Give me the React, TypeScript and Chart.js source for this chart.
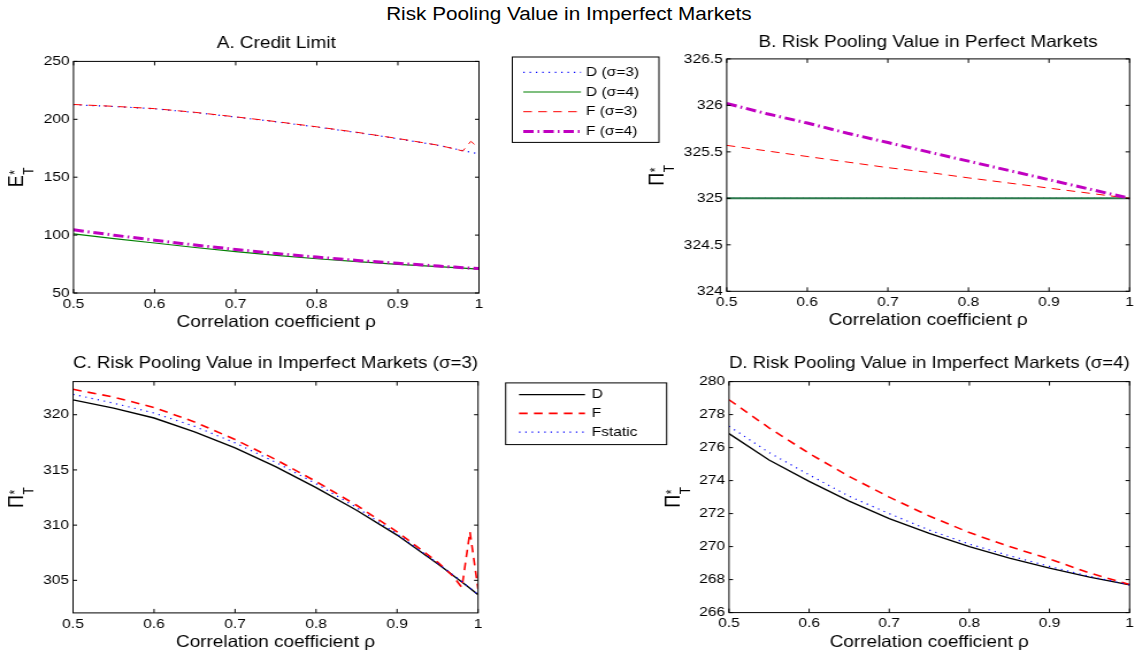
import React, { useEffect, useRef } from "react";
import { Chart, registerables } from "chart.js";

Chart.register(...registerables);

// ---------------- data ----------------
const rhoFine = [0.5, 0.55, 0.6, 0.65, 0.7, 0.75, 0.8, 0.85, 0.9, 0.95, 0.96, 0.97, 0.98, 0.99, 1.0];
const rhoCoarse = [0.5, 0.55, 0.6, 0.65, 0.7, 0.75, 0.8, 0.85, 0.9, 0.95, 1.0];

const xTickValues = [0.5, 0.6, 0.7, 0.8, 0.9, 1.0];
const xTickLabels = ["0.5", "0.6", "0.7", "0.8", "0.9", "1"];

// A. Credit Limit
const creditD3 = [212.6, 211.0, 209.1, 205.8, 201.9, 197.8, 193.3, 188.5, 183.2, 177.4, 176.0, 174.5, 173.0, 171.6, 170.2];
const creditD4 = [101.0, 97.0, 93.2, 89.3, 85.7, 82.5, 79.6, 77.1, 74.8, 72.7, 72.3, 71.9, 71.5, 71.1, 70.7];
const creditF3 = [212.8, 211.2, 209.2, 206.0, 202.1, 198.0, 193.5, 188.7, 183.4, 177.6, 176.0, 174.5, 172.6, 181.0, 175.0];
const creditF4 = [104.6, 99.9, 95.6, 91.4, 87.6, 84.1, 81.0, 78.1, 75.6, 73.3, 72.8, 72.4, 71.9, 71.5, 71.1];
const yTicksA = [50, 100, 150, 200, 250];
const yTickLabelsA = ["50", "100", "150", "200", "250"];

// B. Perfect markets
const perfectD3 = [325, 325, 325, 325, 325, 325, 325, 325, 325, 325, 325];
const perfectD4 = [325, 325, 325, 325, 325, 325, 325, 325, 325, 325, 325];
const perfectF3 = [325.57, 325.51, 325.45, 325.39, 325.33, 325.28, 325.22, 325.165, 325.11, 325.055, 325.0];
const perfectF4 = [326.02, 325.91, 325.81, 325.7, 325.6, 325.5, 325.4, 325.3, 325.2, 325.1, 325.0];
const yTicksB = [324, 324.5, 325, 325.5, 326, 326.5];
const yTickLabelsB = ["324", "324.5", "325", "325.5", "326", "326.5"];

// C. Imperfect markets sigma=3
const imperfect3D = [321.35, 320.6, 319.7, 318.45, 317.0, 315.3, 313.4, 311.35, 309.1, 306.5, 305.95, 305.4, 304.85, 304.28, 303.7];
const imperfect3F = [322.3, 321.6, 320.65, 319.35, 317.75, 315.95, 313.95, 311.8, 309.4, 306.65, 306.0, 305.3, 304.35, 309.4, 304.2];
const imperfect3Fstatic = [321.85, 321.05, 320.15, 318.95, 317.45, 315.7, 313.75, 311.6, 309.2, 306.55, 306.0, 305.45, 304.9, 304.3, 303.7];
const yTicksC = [305, 310, 315, 320];
const yTickLabelsC = ["305", "310", "315", "320"];

// D. Imperfect markets sigma=4
const imperfect4D = [276.85, 275.25, 273.95, 272.75, 271.7, 270.8, 270.0, 269.3, 268.7, 268.15, 267.68];
const imperfect4F = [278.9, 277.2, 275.65, 274.25, 273.0, 271.85, 270.85, 270.0, 269.25, 268.4, 267.7];
const imperfect4Fstatic = [277.3, 275.7, 274.35, 273.05, 272.0, 271.0, 270.15, 269.45, 268.8, 268.2, 267.68];
const yTicksD = [266, 268, 270, 272, 274, 276, 278, 280];
const yTickLabelsD = ["266", "268", "270", "272", "274", "276", "278", "280"];

// ---------------- styling / layout ----------------
const FONT = '"Liberation Sans", Arial, Helvetica, sans-serif';
const K = 1.15; // horizontal stretch of the figure
const VW = 1138 / K - 0.2;
const TITLE_SIZE = 16.5;
const AXIS_SIZE = 16.5;
const TICK_SIZE = 13.5;
const YLABEL_SIZE = 18;
const YLABEL_SMALL = 12;
const TITLE_LH = TITLE_SIZE * 1.2;
const AXIS_LH = AXIS_SIZE * 1.2;

const BLUE = "#0000ff";
const GREEN = "#008000";
const RED = "#ff0000";
const MAGENTA = "#c000c0";
const BLACK = "#000000";

const DOT = [1.2, 4.3];
const DASH = [7.5, 5.5];
const DASHDOT = [9, 3.5, 1.5, 3.5];

type Series = { label: string; xs: number[]; ys: number[]; color: string; width: number; dash: number[] };

type PanelSpec = {
  id: string;
  title: string;
  L: number; R: number; T: number; B: number;
  titleY: number; xTitleY: number;
  cx: number; cRight: number;
  yLabelMain: string; yLabelOffset: number;
  ymin: number; ymax: number;
  yTicks: number[]; yTickLabels: string[];
  series: Series[];
  legend?: { left: number; right: number; top: number; bottom: number; rows: number[]; lx1: number; lx2: number; tx: number };
};

const panels: PanelSpec[] = [
  {
    id: "A",
    title: "A. Credit Limit",
    L: 63.9, R: 416.5, T: 61.7, B: 293.3,
    titleY: 44.2, xTitleY: 322.5,
    cx: 0, cRight: 580,
    yLabelMain: "E", yLabelOffset: 43.9,
    ymin: 50, ymax: 250,
    yTicks: yTicksA, yTickLabels: yTickLabelsA,
    series: [
      { label: "D (σ=3)", xs: rhoFine, ys: creditD3, color: BLUE, width: 1.2, dash: DOT },
      { label: "D (σ=4)", xs: rhoFine, ys: creditD4, color: GREEN, width: 1.2, dash: [] },
      { label: "F (σ=3)", xs: rhoFine, ys: creditF3, color: RED, width: 1, dash: DASH },
      { label: "F (σ=4)", xs: rhoFine, ys: creditF4, color: MAGENTA, width: 3, dash: DASHDOT },
    ],
    legend: { left: 445.5, right: 573, top: 57.3, bottom: 142.7, rows: [72.6, 92.3, 112.0, 131.7], lx1: 455, lx2: 505.2, tx: 509.6 },
  },
  {
    id: "B",
    title: "B. Risk Pooling Value in Perfect Markets",
    L: 631.9, R: 984.1, T: 59.3, B: 291.7,
    titleY: 43.3, xTitleY: 320,
    cx: 560, cRight: 989,
    yLabelMain: "Π", yLabelOffset: 55,
    ymin: 324, ymax: 326.5,
    yTicks: yTicksB, yTickLabels: yTickLabelsB,
    series: [
      { label: "D (σ=3)", xs: rhoCoarse, ys: perfectD3, color: BLUE, width: 1.2, dash: DOT },
      { label: "D (σ=4)", xs: rhoCoarse, ys: perfectD4, color: "#2b7a4b", width: 2, dash: [] },
      { label: "F (σ=3)", xs: rhoCoarse, ys: perfectF3, color: RED, width: 1, dash: DASH },
      { label: "F (σ=4)", xs: rhoCoarse, ys: perfectF4, color: MAGENTA, width: 3, dash: DASHDOT },
    ],
  },
  {
    id: "C",
    title: "C. Risk Pooling Value in Imperfect Markets (σ=3)",
    L: 63.5, R: 415.7, T: 381.7, B: 613,
    titleY: 364, xTitleY: 642,
    cx: 0, cRight: 586,
    yLabelMain: "Π", yLabelOffset: 43.2,
    ymin: 302.05, ymax: 323,
    yTicks: yTicksC, yTickLabels: yTickLabelsC,
    series: [
      { label: "D", xs: rhoFine, ys: imperfect3D, color: BLACK, width: 1.4, dash: [] },
      { label: "F", xs: rhoFine, ys: imperfect3F, color: RED, width: 1.6, dash: DASH },
      { label: "Fstatic", xs: rhoFine, ys: imperfect3Fstatic, color: BLUE, width: 1.2, dash: DOT },
    ],
    legend: { left: 439.7, right: 579.7, top: 383, bottom: 444.7, rows: [394.7, 413.5, 432.3], lx1: 451.3, lx2: 508.7, tx: 514.5 },
  },
  {
    id: "D",
    title: "D. Risk Pooling Value in Imperfect Markets (σ=4)",
    L: 633.9, R: 985.2, T: 381.7, B: 612.7,
    titleY: 364, xTitleY: 642,
    cx: 560, cRight: 989,
    yLabelMain: "Π", yLabelOffset: 43.2,
    ymin: 266, ymax: 280,
    yTicks: yTicksD, yTickLabels: yTickLabelsD,
    series: [
      { label: "D", xs: rhoCoarse, ys: imperfect4D, color: BLACK, width: 1.4, dash: [] },
      { label: "F", xs: rhoCoarse, ys: imperfect4F, color: RED, width: 1.6, dash: DASH },
      { label: "Fstatic", xs: rhoCoarse, ys: imperfect4Fstatic, color: BLUE, width: 1.2, dash: DOT },
    ],
  },
];

function geometry(p: PanelSpec) {
  const cy = p.titleY - TITLE_LH / 2;
  const ch = Math.round(p.xTitleY + AXIS_LH / 2 - cy);
  const cw = Math.round(p.cRight - p.cx);
  return {
    cy, ch, cw,
    yw: p.L - p.cx,
    padR: p.cx + cw - p.R,
    titlePadBottom: p.T - p.titleY - TITLE_LH / 2,
    xh: cy + ch - p.B,
  };
}

const framePlugin = {
  id: "matlabFrame",
  afterDatasetsDraw(chart: any) {
    const { ctx, chartArea: a, scales } = chart;
    ctx.save();
    ctx.strokeStyle = "#000";
    ctx.lineWidth = 1;
    ctx.setLineDash([]);
    ctx.strokeRect(a.left, a.top, a.right - a.left, a.bottom - a.top);
    ctx.beginPath();
    scales.x.ticks.forEach((t: any) => {
      const px = scales.x.getPixelForValue(t.value);
      ctx.moveTo(px, a.bottom);
      ctx.lineTo(px, a.bottom - 4);
      ctx.moveTo(px, a.top);
      ctx.lineTo(px, a.top + 4);
    });
    scales.y.ticks.forEach((t: any) => {
      const py = scales.y.getPixelForValue(t.value);
      ctx.moveTo(a.left, py);
      ctx.lineTo(a.left + 3.5, py);
      ctx.moveTo(a.right, py);
      ctx.lineTo(a.right - 3.5, py);
    });
    ctx.stroke();
    ctx.restore();
  },
};

function yLabelPlugin(main: string, offset: number) {
  return {
    id: "yLabelSubSup",
    afterDraw(chart: any) {
      const { ctx, chartArea: a } = chart;
      const cy = (a.top + a.bottom) / 2;
      ctx.save();
      ctx.translate(a.left - offset, cy);
      ctx.rotate(-Math.PI / 2);
      ctx.fillStyle = "#000";
      ctx.textBaseline = "alphabetic";
      ctx.textAlign = "left";
      ctx.font = `${YLABEL_SIZE}px ${FONT}`;
      const wm = ctx.measureText(main).width;
      ctx.font = `${YLABEL_SMALL}px ${FONT}`;
      const ws = Math.max(ctx.measureText("*").width, ctx.measureText("T").width);
      const x0 = -(wm + ws + 1) / 2;
      ctx.font = `${YLABEL_SIZE}px ${FONT}`;
      ctx.fillText(main, x0, 0);
      ctx.font = `${YLABEL_SMALL}px ${FONT}`;
      ctx.fillText("*", x0 + wm + 0.5, -3);
      ctx.fillText("T", x0 + wm + 0.5, 9);
      ctx.restore();
    },
  };
}

function legendPlugin(p: PanelSpec, cy: number) {
  return {
    id: "boxLegend",
    afterDraw(chart: any) {
      const lg = p.legend;
      if (!lg) return;
      const ctx = chart.ctx;
      const ox = p.cx;
      const oy = cy;
      ctx.save();
      ctx.fillStyle = "#fff";
      ctx.fillRect(lg.left - ox, lg.top - oy, lg.right - lg.left, lg.bottom - lg.top);
      ctx.strokeStyle = "#000";
      ctx.lineWidth = 1;
      ctx.setLineDash([]);
      ctx.strokeRect(lg.left - ox, lg.top - oy, lg.right - lg.left, lg.bottom - lg.top);
      chart.data.datasets.forEach((ds: any, i: number) => {
        const y = lg.rows[i] - oy;
        ctx.beginPath();
        ctx.setLineDash(ds.borderDash || []);
        ctx.strokeStyle = ds.borderColor;
        ctx.lineWidth = ds.borderWidth;
        ctx.moveTo(lg.lx1 - ox, y);
        ctx.lineTo(lg.lx2 - ox, y);
        ctx.stroke();
        ctx.setLineDash([]);
        ctx.fillStyle = "#000";
        ctx.font = `${TICK_SIZE}px ${FONT}`;
        ctx.textBaseline = "middle";
        ctx.textAlign = "left";
        ctx.fillText(ds.label, lg.tx - ox, y);
      });
      ctx.restore();
    },
  };
}

function buildConfig(p: PanelSpec): any {
  const g = geometry(p);
  const n = p.series.length;
  return {
    type: "line",
    data: {
      datasets: p.series.map((s, i) => ({
        label: s.label,
        data: s.xs.map((x, j) => ({ x, y: s.ys[j] })),
        borderColor: s.color,
        backgroundColor: s.color,
        borderWidth: s.width,
        borderDash: s.dash,
        pointRadius: 0,
        fill: false,
        tension: 0,
        order: n - i,
      })),
    },
    options: {
      responsive: false,
      animation: false,
      devicePixelRatio: 1,
      events: [],
      layout: { padding: { left: 0, right: g.padR, top: 0, bottom: 0 } },
      plugins: {
        legend: { display: false },
        tooltip: { enabled: false },
        title: {
          display: true,
          text: p.title,
          fullSize: false,
          color: "#000",
          font: { family: FONT, size: TITLE_SIZE, weight: "normal", lineHeight: 1.2 },
          padding: { top: 0, bottom: g.titlePadBottom },
        },
      },
      scales: {
        x: {
          type: "linear",
          min: 0.5,
          max: 1,
          afterBuildTicks: (axis: any) => {
            axis.ticks = xTickValues.map((v) => ({ value: v }));
          },
          afterFit: (axis: any) => {
            axis.height = g.xh;
          },
          ticks: {
            callback: (_v: any, i: number) => xTickLabels[i],
            color: "#000",
            font: { family: FONT, size: TICK_SIZE },
            padding: 3,
            maxRotation: 0,
            autoSkip: false,
          },
          grid: { display: false, drawTicks: false, tickLength: 0 },
          border: { display: false },
          title: {
            display: true,
            text: "Correlation coefficient ρ",
            color: "#000",
            font: { family: FONT, size: AXIS_SIZE, lineHeight: 1.2 },
            padding: { top: 0, bottom: 0 },
          },
        },
        y: {
          type: "linear",
          min: p.ymin,
          max: p.ymax,
          afterBuildTicks: (axis: any) => {
            axis.ticks = p.yTicks.map((v) => ({ value: v }));
          },
          afterFit: (axis: any) => {
            axis.width = g.yw;
          },
          ticks: {
            callback: (_v: any, i: number) => p.yTickLabels[i],
            color: "#000",
            font: { family: FONT, size: TICK_SIZE },
            padding: 3.5,
            autoSkip: false,
          },
          grid: { display: false, drawTicks: false, tickLength: 0 },
          border: { display: false },
          title: { display: false },
        },
      },
    },
    plugins: [framePlugin, yLabelPlugin(p.yLabelMain, p.yLabelOffset), legendPlugin(p, g.cy)],
  };
}

function Panel({ spec }: { spec: PanelSpec }) {
  const ref = useRef<HTMLCanvasElement>(null);
  const g = geometry(spec);
  useEffect(() => {
    const chart = new Chart(ref.current as HTMLCanvasElement, buildConfig(spec));
    return () => chart.destroy();
  }, []);
  return (
    <canvas
      ref={ref}
      width={g.cw}
      height={g.ch}
      style={{ position: "absolute", left: spec.cx, top: g.cy, width: g.cw + "px", height: g.ch + "px" }}
    />
  );
}

export default function App() {
  return (
    <div
      style={{
        position: "absolute",
        left: 0,
        top: 0,
        width: VW,
        height: 655,
        overflow: "hidden",
        background: "#fff",
        transform: `scaleX(${K})`,
        transformOrigin: "0 0",
      }}
    >
      <div
        style={{
          position: "absolute",
          left: 0,
          top: 4,
          width: VW,
          textAlign: "center",
          fontFamily: FONT,
          fontSize: 18,
          lineHeight: "20px",
          color: "#000",
        }}
      >
        Risk Pooling Value in Imperfect Markets
      </div>
      {panels.map((p) => (
        <Panel key={p.id} spec={p} />
      ))}
    </div>
  );
}
